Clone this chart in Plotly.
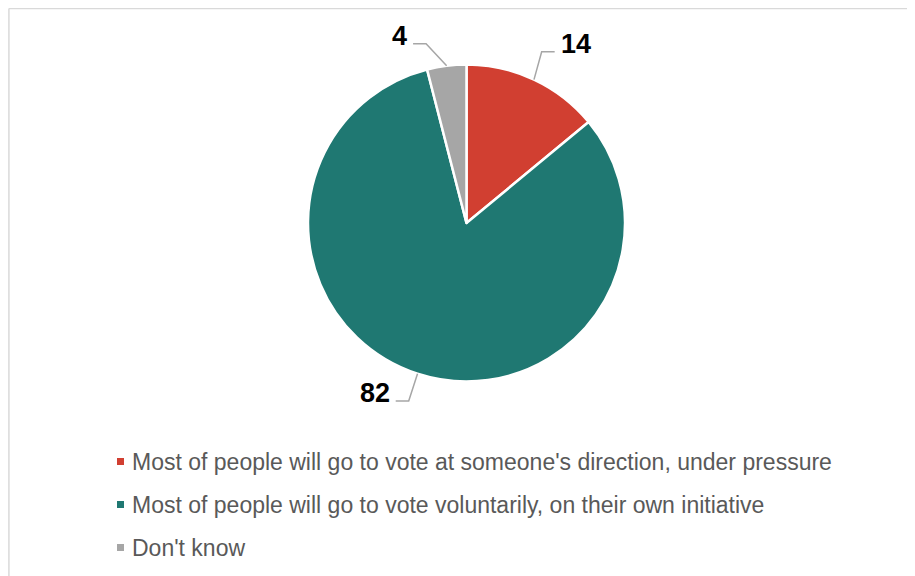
import math
import plotly.graph_objects as go

labels = [
    "Most of people will go to vote at someone's direction, under pressure",
    "Most of people will go to vote voluntarily, on their own initiative",
    "Don't know",
]
values = [14, 82, 4]
colors = ["#D13F31", "#1F7872", "#A6A6A6"]

# page has an 8px body margin; figure sized to fit the window
OFF = 8
W, H = 915 - OFF, 576 - OFF
cx, cy, R = 466.5, 223.0, 158.5   # target page pixels

label_angle_shift = [-1.5, 0.0, -5.5]
elbow_factor = [1.18, 1.18, 1.16]
hseg = 13
gap = 4

def px(x):
    return (x - OFF) / W

def py(y):
    return 1 - (y - OFF) / H

fig = go.Figure(go.Pie(
    labels=labels, values=values, sort=False, direction="clockwise", rotation=0,
    marker=dict(colors=colors, line=dict(color="white", width=2.5)),
    textinfo="none", hoverinfo="label+value", showlegend=False,
    domain=dict(x=[px(cx - R), px(cx + R)], y=[py(cy + R), py(cy - R)]),
))

shapes = []
annotations = []
total = sum(values)
cum = 0
for i, v in enumerate(values):
    mid = (cum + v / 2) / total * 360
    cum += v
    a = math.radians(mid)
    sx, sy = cx + R * math.sin(a), cy - R * math.cos(a)
    a2 = math.radians(mid + label_angle_shift[i])
    ex, ey = cx + R * elbow_factor[i] * math.sin(a2), cy - R * elbow_factor[i] * math.cos(a2)
    side = 1 if math.sin(a2) >= 0 else -1
    hx = ex + side * hseg
    shapes.append(dict(type="path", xref="paper", yref="paper",
                       path=f"M {px(sx)},{py(sy)} L {px(ex)},{py(ey)} L {px(hx)},{py(ey)}",
                       line=dict(color="#A6A6A6", width=1.5)))
    annotations.append(dict(x=px(hx + side * gap), y=py(ey - 8), xref="paper", yref="paper",
                            text=f"<b>{v}</b>", showarrow=False,
                            xanchor="left" if side > 0 else "right", yanchor="middle",
                            font=dict(family="Liberation Sans", size=27, color="#000000")))

# manual legend
leg_x, leg_y0, leg_dy = 117, 461.5, 43
for i, lab in enumerate(labels):
    yy = leg_y0 + i * leg_dy
    shapes.append(dict(type="rect", xref="paper", yref="paper",
                       x0=px(leg_x), x1=px(leg_x + 7), y0=py(yy + 3.5), y1=py(yy - 3.5),
                       fillcolor=colors[i], line=dict(width=0)))
    annotations.append(dict(x=px(leg_x + 13), y=py(yy), xref="paper", yref="paper",
                            text=lab, showarrow=False, xanchor="left", yanchor="middle",
                            font=dict(family="Liberation Sans", size=23, color="#595959")))

# chart border (top and left)
shapes.append(dict(type="line", xref="paper", yref="paper", x0=0.001, x1=1, y0=0.999, y1=0.999,
                   line=dict(color="#D9D9D9", width=1.5)))
shapes.append(dict(type="line", xref="paper", yref="paper", x0=0.001, x1=0.001, y0=0.999, y1=0,
                   line=dict(color="#D9D9D9", width=1.5)))

fig.update_layout(
    width=W, height=H, margin=dict(l=0, r=0, t=0, b=0),
    paper_bgcolor="white", plot_bgcolor="white",
    shapes=shapes, annotations=annotations,
)
fig.write_html("out.html")
